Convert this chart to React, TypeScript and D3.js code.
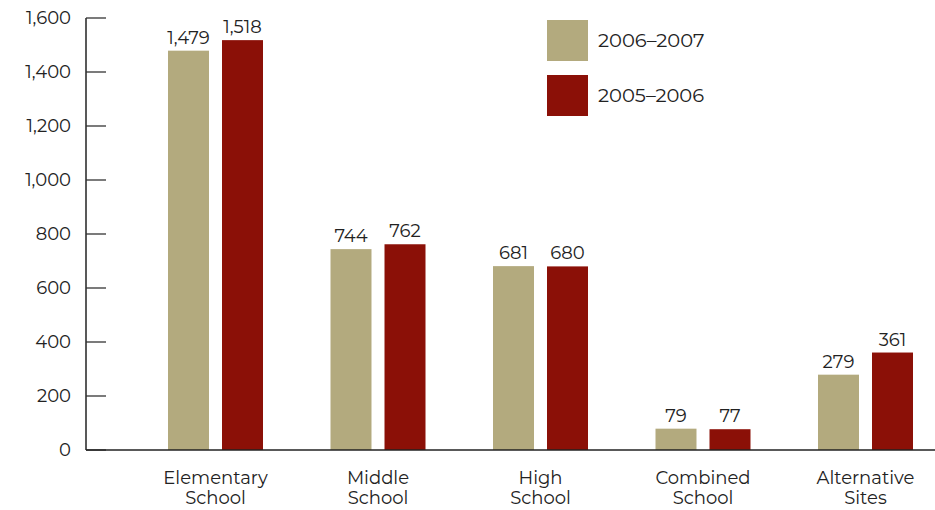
import React from "react";
import * as d3 from "d3";

const categories = [["Elementary", "School"], ["Middle", "School"], ["High", "School"], ["Combined", "School"], ["Alternative", "Sites"]];
const seriesNames = ["2006–2007", "2005–2006"];
const values2006_2007 = [1479, 744, 681, 79, 279];
const values2005_2006 = [1518, 762, 680, 77, 361];
const yTicks = [0, 200, 400, 600, 800, 1000, 1200, 1400, 1600];
const colors = ["#B3AA7E", "#8B1007"];

const W = 935;
const H = 510;
const FONT = "Montserrat, Inter, 'Noto Sans', sans-serif";

export default function App() {
  const series = [values2006_2007, values2005_2006];
  const catKeys = categories.map((c) => c.join(" "));
  const y = d3.scaleLinear().domain([0, 1600]).range([450, 18]);
  const x0 = d3.scaleBand<string>().domain(catKeys).range([134.25, 946.75]).paddingInner(0).paddingOuter(0);
  const x1 = d3.scaleBand<string>().domain(seriesNames).range([33.75, 128.75]).paddingInner(0.241).paddingOuter(0);
  const fmt = d3.format(",");
  const axisX = 86;

  return (
    <div style={{ position: "absolute", left: 0, top: 0 }}>
      <svg width={W} height={H} style={{ display: "block", fontFamily: FONT }}>
        <rect width={W} height={H} fill="#fff" />
        <line x1={axisX} x2={axisX} y1={y(1600)} y2={y(0)} stroke="#222" strokeWidth={1.5} />
        {yTicks.map((t) => (
          <g key={t}>
            <line x1={axisX} x2={axisX + 20} y1={y(t)} y2={y(t)} stroke="#333" strokeWidth={1.3} />
            <text x={71} y={y(t)} dy="0.35em" textAnchor="end" fontSize={18} fill="#222">
              {fmt(t)}
            </text>
          </g>
        ))}
        {catKeys.map((c, i) => (
          <g key={c} transform={`translate(${x0(c)},0)`}>
            {seriesNames.map((s, j) => {
              const v = series[j][i];
              const bx = x1(s)!;
              return (
                <g key={s}>
                  <rect x={bx} y={y(v)} width={x1.bandwidth()} height={y(0) - y(v)} fill={colors[j]} />
                  <text x={bx + x1.bandwidth() / 2} y={y(v) - 7} textAnchor="middle" fontSize={18} fill="#222">
                    {fmt(v)}
                  </text>
                </g>
              );
            })}
            {categories[i].map((line, k) => (
              <text key={k} x={x0.bandwidth() / 2} y={484 + k * 20} textAnchor="middle" fontSize={18} fill="#222">
                {line}
              </text>
            ))}
          </g>
        ))}
        <line x1={axisX} x2={W} y1={y(0)} y2={y(0)} stroke="#222" strokeWidth={1.5} />
        {seriesNames.map((s, j) => (
          <g key={s} transform={`translate(547,${20 + j * 55})`}>
            <rect width={41} height={41} fill={colors[j]} />
            <text x={51} y={20.5} dy="0.35em" fontSize={19.5} fill="#222">
              {s}
            </text>
          </g>
        ))}
      </svg>
    </div>
  );
}
